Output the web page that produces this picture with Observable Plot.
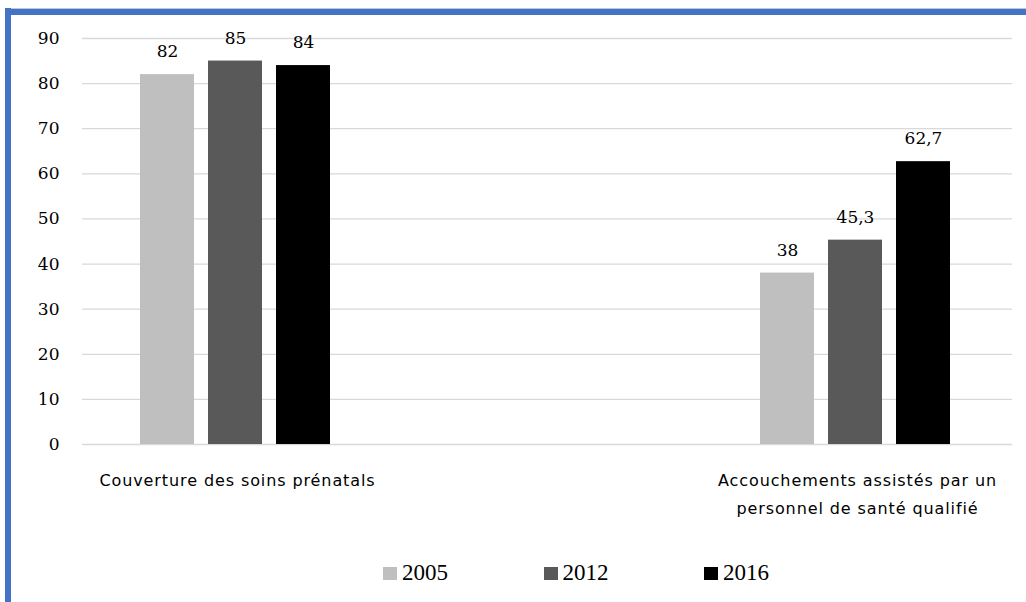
<!DOCTYPE html>
<html>
<head>
<meta charset="utf-8">
<script src="https://cdn.jsdelivr.net/npm/d3@7"></script>
<script src="https://cdn.jsdelivr.net/npm/@observablehq/plot@0.6"></script>
<style>
  html, body { margin: 0; padding: 0; background: #fff; }
  #page { position: relative; width: 1026px; height: 602px; overflow: hidden; background: #fff; }
  #chart { position: absolute; left: 0; top: 0; }
  #chart .cat-axis text { letter-spacing: 0.9px; }
  #frame-top { position: absolute; left: 5px; top: 8px; right: 0; height: 6px; background: #4472c4; border-top: 1px solid #b4c7e7; }
  #frame-left { position: absolute; left: 5px; top: 8px; width: 6px; bottom: 0; background: #4472c4; }
  #legend { position: absolute; left: 383px; top: 561px; display: flex; font-family: "Liberation Serif", serif; font-size: 23px; color: #000; line-height: 24px; }
  .item { width: 160.5px; display: flex; align-items: center; }
  .sw { width: 14px; height: 13px; margin-right: 5px; }
</style>
</head>
<body>
<div id="page">
  <div id="chart"></div>
  <div id="frame-top"></div>
  <div id="frame-left"></div>
  <div id="legend"></div>
</div>
<script>
// Indicators and their axis labels (line break in the second one)
const categories = [
  "Couverture des soins prénatals",
  "Accouchements assistés par un personnel de santé qualifié"
];
const categoryLabels = [
  "Couverture des soins prénatals",
  "Accouchements assistés par un\npersonnel de santé qualifié"
];
// Survey years and their values (%)
const years = ["2005", "2012", "2016"];
const values2005 = [82, 38];
const values2012 = [85, 45.3];
const values2016 = [84, 62.7];
const yTicks = [0, 10, 20, 30, 40, 50, 60, 70, 80, 90];
const colors = ["#bfbfbf", "#595959", "#000000"];

// Empty slot between the two indicator groups
const spacer = "\u00a0";
const fxDomain = [categories[0], spacer, categories[1]];

const series = [values2005, values2012, values2016];
const rows = [];
categories.forEach((c, i) => {
  years.forEach((yr, j) => rows.push({category: c, year: yr, value: series[j][i]}));
});

// Gridlines repeated in every slot so the empty middle one is drawn too
const gridRows = fxDomain.flatMap(f => yTicks.map(v => ({slot: f, value: v})));

const frNumber = v => String(v).replace(".", ",");
const labelOf = c => {
  const i = categories.indexOf(c);
  return i < 0 ? "" : categoryLabels[i];
};

const plot = Plot.plot({
  width: 1026,
  height: 530,
  marginLeft: 81,
  marginRight: 14,
  marginTop: 38,
  marginBottom: 86,
  fx: {domain: fxDomain, padding: 0},
  x: {domain: years, paddingInner: 0.212, paddingOuter: 0.871, align: 0.485, axis: null},
  y: {domain: [0, 90], axis: null},
  color: {domain: years, range: colors},
  style: {background: "transparent", color: "#000"},
  marks: [
    Plot.gridY(gridRows, {fx: "slot", y: "value", stroke: "#d9d9d9", strokeOpacity: 1, strokeWidth: 1.3}),
    Plot.axisY(yTicks, {
      tickSize: 0, tickPadding: 23, label: null,
      fontSize: 17, fontFamily: "DejaVu Serif", fill: "#000"
    }),
    Plot.barY(rows, {fx: "category", x: "year", y: "value", fill: "year"}),
    Plot.text(rows, {
      fx: "category", x: "year", y: "value",
      text: d => frNumber(d.value),
      dy: -23, fontSize: 17, fontFamily: "DejaVu Serif", fill: "#000"
    }),
    Plot.axisFx({
      anchor: "bottom", tickSize: 0, tickPadding: 22,
      tickFormat: labelOf, className: "cat-axis",
      fontSize: 16, fontFamily: "DejaVu Sans", fill: "#000",
      lineHeight: 1.75, label: null
    })
  ]
});
document.getElementById("chart").appendChild(plot);

// Legend below the chart, colours taken from the plot's color scale
const color = plot.scale("color");
const legend = document.getElementById("legend");
years.forEach((yr, j) => {
  const item = document.createElement("div");
  item.className = "item";
  const sw = document.createElement("span");
  sw.className = "sw";
  sw.style.background = color.range[j];
  const t = document.createElement("span");
  t.textContent = yr;
  item.appendChild(sw);
  item.appendChild(t);
  legend.appendChild(item);
});
</script>
</body>
</html>
